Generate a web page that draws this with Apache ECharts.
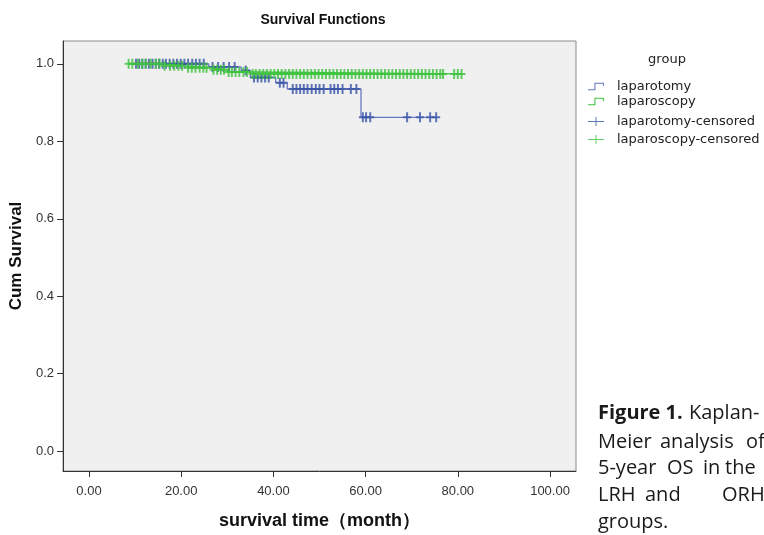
<!DOCTYPE html>
<html>
<head>
<meta charset="utf-8">
<script src="https://cdn.jsdelivr.net/npm/echarts@6/dist/echarts.min.js"></script>
<style>
html,body{margin:0;padding:0;background:#fff;}
#chart{width:764px;height:535px;}
</style>
</head>
<body>
<div id="chart"></div>
<script>
// ---- data ----
var xTicks = [0, 20, 40, 60, 80, 100];
var yTicks = [0, 0.2, 0.4, 0.6, 0.8, 1.0];

// laparotomy (open) group
var laparotomyStart = 10.2;
var laparotomyEnd = 75.5;
var laparotomyEventTimes = [26, 33, 35, 40.5, 43, 59];
var laparotomySurvival   = [0.992, 0.983, 0.965, 0.951, 0.935, 0.862];
var laparotomyCensored = [10.2, 10.9, 11.6, 12.3, 13.0, 13.8, 14.5, 15.2, 16.0, 16.7, 17.5, 18.3, 19.1, 19.9, 20.7, 21.5, 22.4, 23.2, 24.0, 24.9, 26.8, 28.0, 29.2, 30.4, 31.6, 34.0, 35.8, 36.6, 37.4, 38.2, 39.0, 41.4, 42.2, 44.2, 45.0, 45.8, 46.6, 47.4, 48.3, 49.2, 50.0, 50.9, 52.4, 53.2, 54.0, 55.0, 56.8, 58.0, 59.4, 60.1, 61.0, 69.0, 71.8, 74.0, 75.3];

// laparoscopy group
var laparoscopyStart = 8.5;
var laparoscopyEnd = 81;
var laparoscopyEventTimes = [16, 21, 26, 30, 35];
var laparoscopySurvival   = [0.995, 0.990, 0.985, 0.979, 0.974];
var laparoscopyCensored = [8.6, 9.4, 10.6, 11.5, 12.3, 13.4, 14.5, 15.3, 16.4, 17.6, 18.5, 19.4, 20.2, 21.5, 22.3, 23.1, 24.0, 24.8, 25.5, 27.0, 27.8, 28.6, 29.3, 30.3, 31.0, 31.8, 32.6, 33.5, 34.3, 35.5, 36.2, 37.0, 37.8, 38.6, 39.4, 40.2, 41.0, 41.8, 42.6, 43.4, 44.2, 45.0, 45.8, 46.6, 47.4, 48.2, 49.0, 49.8, 50.6, 51.4, 52.2, 53.0, 53.8, 54.6, 55.4, 56.2, 57.0, 57.8, 58.6, 59.4, 60.2, 61.0, 61.8, 62.6, 63.4, 64.2, 65.0, 65.8, 66.6, 67.4, 68.2, 69.0, 69.8, 70.6, 71.4, 72.2, 73.0, 73.8, 74.6, 75.4, 76.2, 76.8, 79.2, 80.0, 80.8];

// ---- helpers ----
function stepLine(start, end, times, surv) {
  var d = [[start, 1]];
  for (var i = 0; i < times.length; i++) d.push([times[i], surv[i]]);
  d.push([end, surv[surv.length - 1]]);
  return d;
}
function survAt(t, times, surv) {
  var s = 1;
  for (var i = 0; i < times.length; i++) { if (times[i] <= t) s = surv[i]; }
  return s;
}
function censorPoints(cens, times, surv) {
  return cens.map(function (t) { return [t, survAt(t, times, surv)]; });
}

var blueLine = '#6877c2', blueMark = '#3a54a6';
var greenLine = '#3fc43f', greenMark = '#3fc23f';
var plusPath = 'path://M3,0h2v9h-2zM0,3.6h8v1.8h-8z';
var stepIcon = 'path://M0,7h6v-6h9v3h-1v-2h-7v6h-7z';
var plusIcon = 'path://M0,4h16v1h-16zM7.5,0h1v9h-1z';
var fontMain = '"Liberation Sans", Arial, sans-serif';
var capFont = '20px "Open Sans", sans-serif';

function cap(text, x, y, bold) {
  return {type: 'text', x: x, y: y, style: {text: text, font: (bold ? 'bold ' : '') + capFont, fill: '#1a1a1a', verticalAlign: 'middle'}};
}

var chart = echarts.init(document.getElementById('chart'), null, {renderer: 'canvas'});
chart.setOption({
  animation: false,
  backgroundColor: '#ffffff',
  title: {
    text: 'Survival Functions',
    left: 318, top: 8, textAlign: 'center',
    textStyle: {fontFamily: fontMain, fontSize: 14, fontWeight: 'bold', color: '#111'}
  },
  grid: {
    left: 62, top: 41, width: 514, height: 433,
    show: true, backgroundColor: '#f0f0f0', borderColor: '#8a8a8a', borderWidth: 1
  },
  legend: [{
    orient: 'vertical', left: 583, top: 75, itemWidth: 16, itemHeight: 8, itemGap: 2,
    textStyle: {fontFamily: '"DejaVu Sans", sans-serif', fontSize: 13, color: '#222', padding: [0, 0, 0, 8]},
    data: [{name: 'laparotomy', icon: stepIcon}, {name: 'laparoscopy', icon: stepIcon}]
  }, {
    orient: 'vertical', left: 583, top: 110, itemWidth: 16, itemHeight: 9, itemGap: 5,
    textStyle: {fontFamily: '"DejaVu Sans", sans-serif', fontSize: 13, color: '#222', padding: [0, 0, 0, 8]},
    data: [{name: 'laparotomy-censored', icon: plusIcon}, {name: 'laparoscopy-censored', icon: plusIcon}]
  }],
  xAxis: {
    type: 'value', min: -5.63, max: 105.63,
    name: 'survival time（month）', nameLocation: 'middle', nameGap: 41,
    nameTextStyle: {fontFamily: fontMain, fontSize: 18, fontWeight: 'bold', color: '#111'},
    axisLine: {onZero: false, lineStyle: {color: '#333', width: 1}},
    axisTick: {show: true, length: 6, customValues: xTicks, lineStyle: {color: '#333'}},
    axisLabel: {customValues: xTicks, margin: 14, color: '#333', fontFamily: fontMain, fontSize: 13,
      formatter: function (v) { return v.toFixed(2); }},
    splitLine: {show: false}
  },
  yAxis: {
    type: 'value', min: -0.0513, max: 1.059,
    name: 'Cum Survival', nameLocation: 'middle', nameGap: 38,
    nameTextStyle: {fontFamily: fontMain, fontSize: 17, fontWeight: 'bold', color: '#111'},
    axisLine: {show: true, onZero: false, lineStyle: {color: '#333', width: 1}},
    axisTick: {show: true, length: 6, customValues: yTicks, lineStyle: {color: '#333'}},
    axisLabel: {customValues: yTicks, margin: 9, color: '#333', fontFamily: fontMain, fontSize: 13,
      formatter: function (v) { return v.toFixed(1); }},
    splitLine: {show: false}
  },
  series: [{
    name: 'laparotomy', type: 'line', step: 'end', showSymbol: false, color: blueLine,
    lineStyle: {color: blueLine, width: 1.3}, z: 2,
    data: stepLine(laparotomyStart, laparotomyEnd, laparotomyEventTimes, laparotomySurvival)
  }, {
    name: 'laparotomy-censored', type: 'scatter', symbol: plusPath, symbolSize: [8, 10], color: blueMark,
    itemStyle: {color: blueMark}, z: 3,
    data: censorPoints(laparotomyCensored, laparotomyEventTimes, laparotomySurvival)
  }, {
    name: 'laparoscopy', type: 'line', step: 'end', showSymbol: false, color: greenLine,
    lineStyle: {color: greenLine, width: 1.3}, z: 4,
    data: stepLine(laparoscopyStart, laparoscopyEnd, laparoscopyEventTimes, laparoscopySurvival)
  }, {
    name: 'laparoscopy-censored', type: 'scatter', symbol: plusPath, symbolSize: [8, 10], color: greenMark,
    itemStyle: {color: greenMark}, z: 5,
    data: censorPoints(laparoscopyCensored, laparoscopyEventTimes, laparoscopySurvival)
  }],
  graphic: [
    {type: 'text', x: 667, y: 60, style: {text: 'group', font: '13px "DejaVu Sans", sans-serif', fill: '#222', align: 'center', verticalAlign: 'middle'}},
    cap('Figure 1.', 598, 413, true),
    cap('Kaplan-', 689, 413),
    cap('Meier', 598, 442),
    cap('analysis', 660, 442),
    cap('of', 746, 442),
    cap('5-year', 598, 468),
    cap('OS', 667, 468),
    cap('in', 703, 468),
    cap('the', 725, 468),
    cap('LRH', 598, 495),
    cap('and', 645, 495),
    cap('ORH', 722, 495),
    cap('groups.', 598, 522)
  ]
});
</script>
</body>
</html>
